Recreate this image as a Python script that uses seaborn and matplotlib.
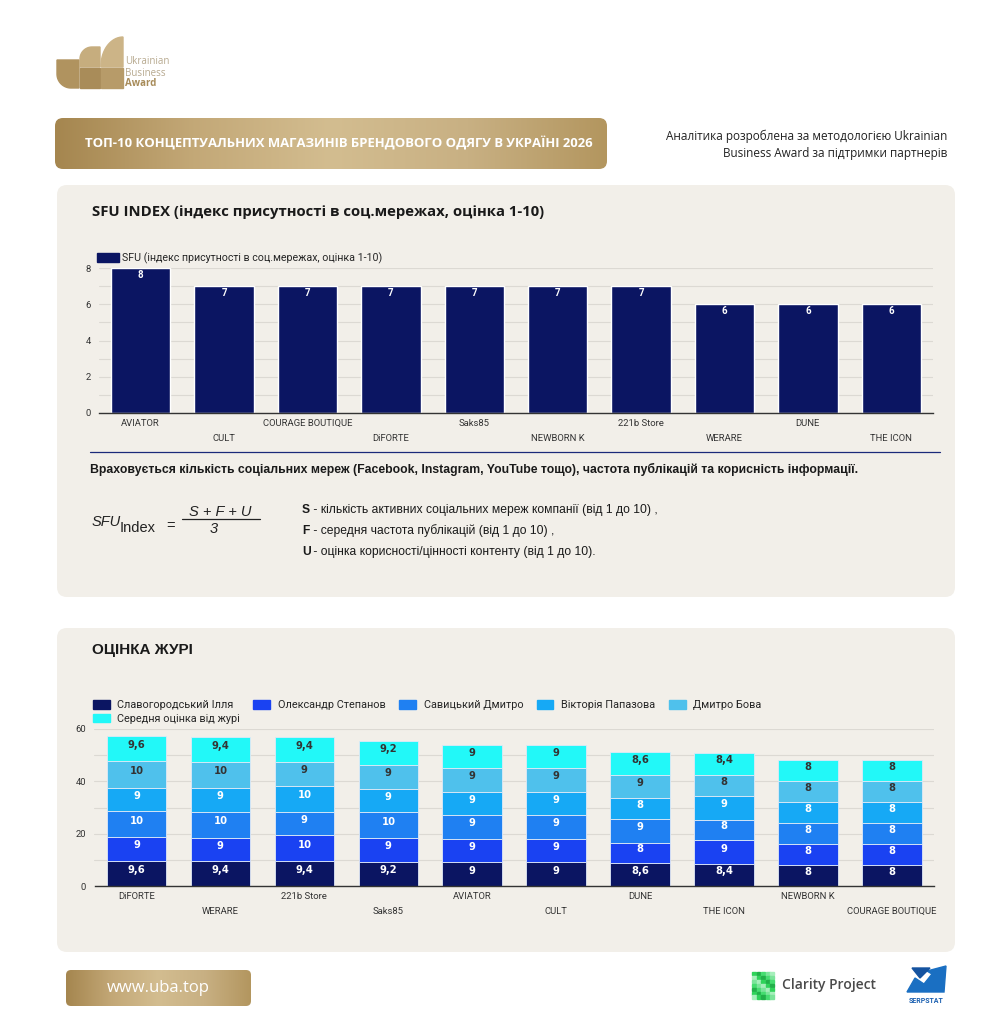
import numpy as np
import pandas as pd
import matplotlib
matplotlib.use('Agg')
import matplotlib.pyplot as plt
import seaborn as sns
from matplotlib import font_manager
from matplotlib.patches import FancyBboxPatch, Rectangle, Patch, Polygon
from matplotlib.colors import LinearSegmentedColormap

# --- Daten: SFU-Index ---
sfu_stores = ['AVIATOR', 'CULT', 'COURAGE BOUTIQUE', 'DiFORTE', 'Saks85',
              'NEWBORN K', '221b Store', 'WERARE', 'DUNE', 'THE ICON']
sfu_values = [8, 7, 7, 7, 7, 7, 7, 6, 6, 6]
sfu_label = 'SFU (індекс присутності в соц.мережах, оцінка 1-10)'
sfu_yticks = [0, 2, 4, 6, 8]

# --- Daten: Оцінка журі ---
jury_stores = ['DiFORTE', 'WERARE', '221b Store', 'Saks85', 'AVIATOR',
               'CULT', 'DUNE', 'THE ICON', 'NEWBORN K', 'COURAGE BOUTIQUE']
jury_names = ['Славогородський Ілля', 'Олександр Степанов', 'Савицький Дмитро',
              'Вікторія Папазова', 'Дмитро Бова', 'Середня оцінка від журі']
slavohorodskyi = [9.6, 9.4, 9.4, 9.2, 9, 9, 8.6, 8.4, 8, 8]
stepanov = [9, 9, 10, 9, 9, 9, 8, 9, 8, 8]
savytskyi = [10, 10, 9, 10, 9, 9, 9, 8, 8, 8]
papazova = [9, 9, 10, 9, 9, 9, 8, 9, 8, 8]
bova = [10, 10, 9, 9, 9, 9, 9, 8, 8, 8]
average = [9.6, 9.4, 9.4, 9.2, 9, 9, 8.6, 8.4, 8, 8]
jury_yticks = [0, 20, 40, 60]

# Farben
navy = '#0b1562'
jury_colors = ['#0b1562', '#1a42f2', '#1f80f2', '#16a9f5', '#4fc1ec', '#22f8f8']
label_colors = ['white', 'white', 'white', 'white', '#333333', '#333333']
panel_col = '#f2efe9'
grid_col = '#dcd9d3'

sns.set_style('white')
names = {f.name for f in font_manager.fontManager.ttflist}
narrow = 'Liberation Sans Narrow' if 'Liberation Sans Narrow' in names else 'Liberation Sans'
plt.rcParams['font.family'] = ['Roboto', 'DejaVu Sans']

W, H = 1004, 1024
fig = plt.figure(figsize=(W / 100, H / 100), dpi=100, facecolor='white')
bg = fig.add_axes([0, 0, 1, 1])
bg.set_xlim(0, W)
bg.set_ylim(H, 0)
bg.axis('off')

gold = LinearSegmentedColormap.from_list('gold', ['#a5864f', '#c3a877', '#d3bd90', '#c8b083', '#b3965f'])
grad = np.linspace(0, 1, 256)[None, :]


def gold_box(x0, y0, x1, y1, r=8):
    box = FancyBboxPatch((x0, y0), x1 - x0, y1 - y0,
                         boxstyle=f'round,pad=0,rounding_size={r}',
                         facecolor='none', edgecolor='none')
    bg.add_patch(box)
    im = bg.imshow(grad, extent=(x0, x1, y1, y0), aspect='auto', cmap=gold, zorder=1)
    im.set_clip_path(box)


def px_axes(l, t, r, b):
    return fig.add_axes([l / W, 1 - b / H, (r - l) / W, (b - t) / H])


def corner_shape(x0, y0, x1, y1, corner, rx, ry, color):
    # Rechteck mit einer stark abgerundeten Ecke (Logo-Baustein)
    t = np.linspace(0, np.pi / 2, 20)
    if corner == 'tl':
        arc = [(x0 + rx - rx * np.cos(a), y0 + ry - ry * np.sin(a)) for a in t]
        pts = arc + [(x1, y0), (x1, y1), (x0, y1)]
    else:  # 'bl'
        arc = [(x0 + rx - rx * np.sin(a), y1 - ry + ry * np.cos(a)) for a in t]
        pts = [(x1, y1)] + arc + [(x0, y0), (x1, y0)]
    bg.add_patch(Polygon(pts, closed=True, color=color))


# Logo
corner_shape(57, 60, 79, 88, 'bl', 14, 14, '#b0935f')
corner_shape(80, 47, 100, 67, 'tl', 12, 12, '#c6ad7e')
bg.add_patch(Rectangle((80, 68), 20, 20, color='#a98c59'))
corner_shape(101, 37, 123, 67, 'tl', 22, 29, '#ccb487')
bg.add_patch(Rectangle((101, 68), 22, 20, color='#b79b69'))
lf = ['Open Sans', 'DejaVu Sans']
bg.text(125, 62, 'Ukrainian', fontsize=7, color='#b7a98f', va='center', family=lf)
bg.text(125, 73, 'Business', fontsize=7, color='#b7a98f', va='center', family=lf)
bg.text(125, 84, 'Award', fontsize=7, color='#a88c5a', va='center', fontweight='bold', family=lf)

# Titelbanner
gold_box(55, 118, 607, 169, 8)
bg.text(85, 144, 'ТОП-10 КОНЦЕПТУАЛЬНИХ МАГАЗИНІВ БРЕНДОВОГО ОДЯГУ В УКРАЇНІ 2026',
        color='white', fontsize=9.45, fontweight='bold', va='center', zorder=3, family=lf)
bg.text(947, 136, 'Аналітика розроблена за методологією Ukrainian', ha='right', va='center',
        fontsize=8.5, color='#222222', family=lf)
bg.text(947, 154, 'Business Award за підтримки партнерів', ha='right', va='center',
        fontsize=8.5, color='#222222', family=lf)

# Panels
for (t, b) in [(185, 597), (628, 952)]:
    bg.add_patch(FancyBboxPatch((57, t), 898, b - t, boxstyle='round,pad=0,rounding_size=10',
                                facecolor=panel_col, edgecolor='none'))

bg.text(92, 212, 'SFU INDEX (індекс присутності в соц.мережах, оцінка 1-10)', fontsize=10.7,
        fontweight='bold', va='center', color='#1a1a1a', family=lf)
bg.text(92, 650, 'ОЦІНКА ЖУРІ', fontsize=11, fontweight='bold', va='center',
        color='#1a1a1a', family=[narrow, 'DejaVu Sans'])

# Trennlinie + Erklärung
bg.plot([90, 940], [452, 452], color='#1b2a7a', lw=0.9)
bg.text(90, 469, 'Враховується кількість соціальних мереж (Facebook, Instagram, YouTube тощо), '
        'частота публікацій та корисність інформації.', fontsize=8.8, fontweight='bold',
        va='center', color='#1a1a1a', family=[narrow, 'DejaVu Sans'])

# Formel
ff = ['Liberation Sans', 'DejaVu Sans']
bg.text(92, 522, 'SFU', fontsize=10.5, style='italic', va='center', family=ff, color='#222222')
bg.text(120, 528, 'Index', fontsize=10.5, va='center', family=ff, color='#222222')
bg.text(166, 526, '=', fontsize=10.5, va='center', family=ff, color='#222222')
bg.text(220, 512, 'S + F + U', fontsize=10.5, style='italic', ha='center', va='center', family=ff, color='#222222')
bg.plot([182, 260], [519, 519], color='#222222', lw=0.9)
bg.text(214, 529, '3', fontsize=10.5, style='italic', ha='center', va='center', family=ff, color='#222222')
defs = [('S', ' - кількість активних соціальних мереж компанії (від 1 до 10) ,', 510),
        ('F', ' - середня частота публікацій (від 1 до 10) ,', 531),
        ('U', ' - оцінка корисності/цінності контенту (від 1 до 10).', 552)]
for letter, rest, yy in defs:
    bg.text(302, yy, letter, fontsize=8.7, fontweight='bold', va='center', family=[narrow, 'DejaVu Sans'], color='#1a1a1a')
    bg.text(310, yy, rest, fontsize=8.7, va='center', family=[narrow, 'DejaVu Sans'], color='#1a1a1a')


def stagger(labels):
    return [lab if i % 2 == 0 else '\n' + lab for i, lab in enumerate(labels)]


def style_axes(ax, ymax, major, minor):
    ax.set_facecolor('none')
    ax.set_ylim(0, ymax)
    ax.set_xlim(-0.5, 9.5)
    ax.set_yticks(major)
    ax.set_yticks(minor, minor=True)
    ax.grid(axis='y', which='both', color=grid_col, lw=0.8)
    ax.set_axisbelow(True)
    for s in ['top', 'right', 'left']:
        ax.spines[s].set_visible(False)
    ax.spines['bottom'].set_color('#333333')
    ax.spines['bottom'].set_linewidth(1)
    ax.tick_params(axis='both', which='both', length=0, labelsize=6.8, colors='#333333', pad=6)
    ax.tick_params(axis='x', pad=4)
    ax.set_xlabel('')
    ax.set_ylabel('')


# SFU-Balken
ax1 = px_axes(99, 268, 933, 413)
df1 = pd.DataFrame({'store': sfu_stores, 'value': sfu_values})
sns.barplot(data=df1, x='store', y='value', color=navy, width=0.71, saturation=1,
            errorbar=None, ax=ax1)
style_axes(ax1, 8, sfu_yticks, range(0, 9))
ax1.set_xticks(range(len(sfu_stores)))
ax1.set_xticklabels(stagger(sfu_stores), linespacing=1.9)
for i, v in enumerate(sfu_values):
    ax1.text(i, v - 0.12, str(v), ha='center', va='top', color='white', fontsize=7, fontweight='bold')
ax1.legend(handles=[Patch(color=navy, label=sfu_label)], loc='lower left',
           bbox_to_anchor=(-0.002, 1.03), frameon=False, fontsize=7.7, handlelength=2.0,
           handleheight=1.0, handletextpad=0.35, borderaxespad=0, borderpad=0)

# Jury-Balken (gestapelt)
ax2 = px_axes(94.5, 729, 934, 886)
series = [slavohorodskyi, stepanov, savytskyi, papazova, bova, average]
bottom = np.zeros(len(jury_stores))
for vals, col, tc in zip(series, jury_colors, label_colors):
    vals = np.array(vals, dtype=float)
    sns.barplot(x=jury_stores, y=vals, color=col, width=0.71, saturation=1, errorbar=None,
                bottom=bottom, edgecolor='#dfe9f7', linewidth=0.6, ax=ax2)
    for i, v in enumerate(vals):
        txt = f'{v:g}'.replace('.', ',')
        ax2.text(i, bottom[i] + v / 2 + 1.4, txt, ha='center', va='center', color=tc,
                 fontsize=7.2, fontweight='bold', family=['DejaVu Sans'])
    bottom = bottom + vals
style_axes(ax2, 60, jury_yticks, range(0, 61, 10))
ax2.set_xticks(range(len(jury_stores)))
ax2.set_xticklabels(stagger(jury_stores), linespacing=1.9)
handles = [Patch(color=c, label=n) for c, n in zip(jury_colors, jury_names)]
order = [0, 5, 1, 2, 3, 4]
ax2.legend(handles=[handles[k] for k in order], loc='lower left', ncol=5,
           bbox_to_anchor=(-0.002, 1.035), frameon=False, fontsize=7.8, handlelength=1.55,
           handleheight=0.8, handletextpad=0.7, columnspacing=1.25, labelspacing=0.3,
           borderaxespad=0, borderpad=0)

# Footer
gold_box(66, 970, 251, 1006, 5)
bg.text(158, 988, 'www.uba.top', color='white', fontsize=12, ha='center', va='center', zorder=3,
        family=lf)
greens = ['#2fd35a', '#7be49a', '#22b04a', '#a6efbb', '#45dd70']
for r in range(7):
    for c in range(5):
        bg.add_patch(Rectangle((752 + c * 4.6, 972 + r * 3.9), 3.8, 3.2,
                               color=greens[(r * 3 + c * 2) % len(greens)]))
bg.text(782, 985, 'Clarity Project', fontsize=10, color='#4a4a4a', va='center',
        family=lf, fontweight='semibold')
bg.add_patch(Polygon([(907, 992), (915, 978), (924, 984), (932, 974), (927, 971),
                      (946, 966), (944, 992)], color='#1a6fc2'))
bg.add_patch(Polygon([(912, 968), (930, 968), (920, 978)], color='#1553a0'))
bg.text(926, 1001, 'SERPSTAT', fontsize=5, color='#1a5fb0', ha='center', va='center', fontweight='bold')

fig.savefig('out.png', dpi=100, facecolor='white')
